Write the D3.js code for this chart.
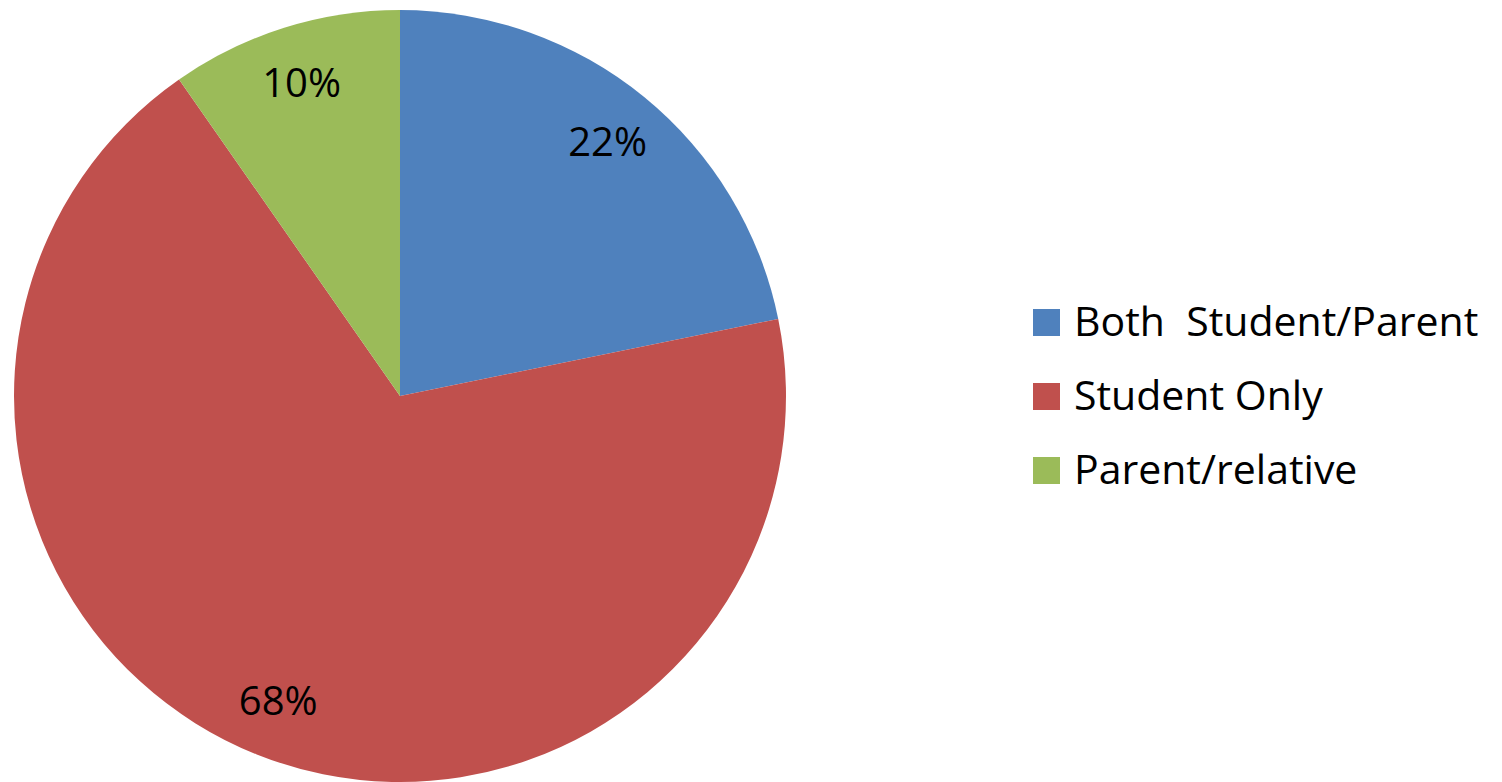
<!DOCTYPE html>
<html>
<head>
<meta charset="utf-8">
<script src="https://cdn.jsdelivr.net/npm/d3@7"></script>
<style>
  body { margin: 0; background: #fff; }
  text { font-family: "Open Sans", sans-serif; fill: #000; }
</style>
</head>
<body>
<script>
var width = 1502;
var height = 782;

// chart data (shares, labels as printed)
var categories = ["Both  Student/Parent", "Student Only", "Parent/relative"];
var values = [21.8, 68.5, 9.7];
var labels = ["22%", "68%", "10%"];
var colors = ["#4F81BD", "#C0504D", "#9BBB59"];

var svg = d3.select("body").append("svg")
    .attr("width", width)
    .attr("height", height);

var radius = 386,
    cx = 400,
    cy = 396;

var pie = d3.pie().sort(null).value(function (d) { return d; });
var arcs = pie(values);

var arc = d3.arc().innerRadius(0).outerRadius(radius);
var labelArc = d3.arc().innerRadius(radius * 0.85).outerRadius(radius * 0.85);

var pie_group = svg.append("g")
    .attr("transform", "translate(" + cx + "," + cy + ")");

pie_group.selectAll(".slice")
    .data(arcs)
    .enter()
    .append("path")
    .attr("class", "slice")
    .attr("d", arc)
    .attr("fill", function (d, i) { return colors[i]; });

pie_group.selectAll(".label")
    .data(arcs)
    .enter()
    .append("text")
    .attr("class", "label")
    .attr("transform", function (d) {
        return "translate(" + labelArc.centroid(d) + ")";
    })
    .attr("text-anchor", "middle")
    .attr("dy", "0.36em")
    .style("font-size", "40px")
    .text(function (d, i) { return labels[i]; });

// legend
var legend = svg.append("g")
    .attr("transform", "translate(1033,309)");

var item = legend.selectAll(".item")
    .data(categories)
    .enter()
    .append("g")
    .attr("class", "item")
    .attr("transform", function (d, i) { return "translate(0," + (i * 74) + ")"; });

item.append("rect")
    .attr("width", 27)
    .attr("height", 27)
    .attr("fill", function (d, i) { return colors[i]; });

item.append("text")
    .attr("x", 41)
    .attr("y", 27)
    .style("font-size", "41px")
    .style("white-space", "pre")
    .attr("xml:space", "preserve")
    .text(function (d) { return d; });
</script>
</body>
</html>
